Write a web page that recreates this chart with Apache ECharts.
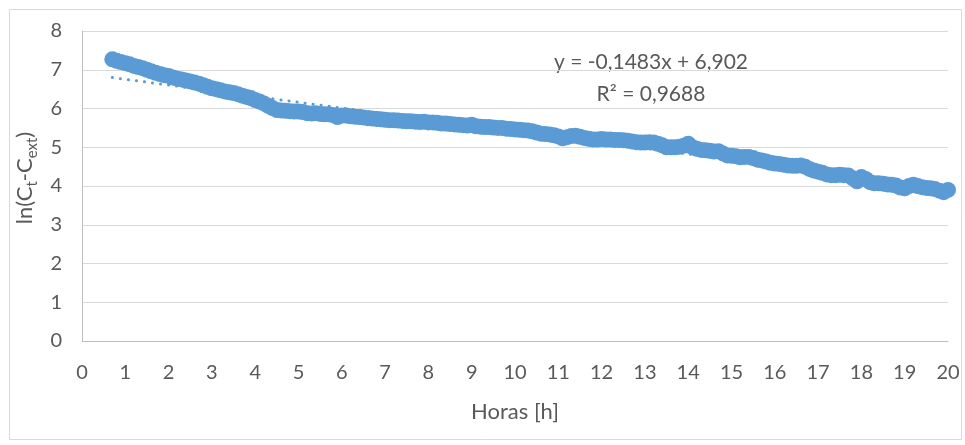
<!DOCTYPE html>
<html>
<head>
<meta charset="utf-8">
<script src="https://cdn.jsdelivr.net/npm/echarts@6/dist/echarts.min.js"></script>
<style>
    html, body { margin: 0; padding: 0; background: #fff; }
    #chart { width: 965px; height: 445px; }
</style>
</head>
<body>
<div id="chart"></div>
<script>
    // horas de medicion
    var hours = [
        0.7, 0.8, 0.9, 1.0,
        1.1, 1.2, 1.3, 1.4, 1.5, 1.6, 1.7, 1.8, 1.9, 2.0,
        2.1, 2.2, 2.3, 2.4, 2.5, 2.6, 2.7, 2.8, 2.9, 3.0,
        3.1, 3.2, 3.3, 3.4, 3.5, 3.6, 3.7, 3.8, 3.9, 4.0,
        4.1, 4.2, 4.3, 4.4, 4.5, 4.6, 4.7, 4.8, 4.9, 5.0,
        5.1, 5.2, 5.3, 5.4, 5.5, 5.6, 5.7, 5.8, 5.9, 6.0,
        6.1, 6.2, 6.3, 6.4, 6.5, 6.6, 6.7, 6.8, 6.9, 7.0,
        7.1, 7.2, 7.3, 7.4, 7.5, 7.6, 7.7, 7.8, 7.9, 8.0,
        8.1, 8.2, 8.3, 8.4, 8.5, 8.6, 8.7, 8.8, 8.9, 9.0,
        9.1, 9.2, 9.3, 9.4, 9.5, 9.6, 9.7, 9.8, 9.9, 10.0,
        10.1, 10.2, 10.3, 10.4, 10.5, 10.6, 10.7, 10.8, 10.9, 11.0,
        11.1, 11.2, 11.3, 11.4, 11.5, 11.6, 11.7, 11.8, 11.9, 12.0,
        12.1, 12.2, 12.3, 12.4, 12.5, 12.6, 12.7, 12.8, 12.9, 13.0,
        13.1, 13.2, 13.3, 13.4, 13.5, 13.6, 13.7, 13.8, 13.9, 14.0,
        14.1, 14.2, 14.3, 14.4, 14.5, 14.6, 14.7, 14.8, 14.9, 15.0,
        15.1, 15.2, 15.3, 15.4, 15.5, 15.6, 15.7, 15.8, 15.9, 16.0,
        16.1, 16.2, 16.3, 16.4, 16.5, 16.6, 16.7, 16.8, 16.9, 17.0,
        17.1, 17.2, 17.3, 17.4, 17.5, 17.6, 17.7, 17.8, 17.9, 18.0,
        18.1, 18.2, 18.3, 18.4, 18.5, 18.6, 18.7, 18.8, 18.9, 19.0,
        19.1, 19.2, 19.3, 19.4, 19.5, 19.6, 19.7, 19.8, 19.9, 20.0
    ];
    // ln(Ct - Cext)
    var lnValues = [
        7.27, 7.23, 7.20, 7.17,
        7.14, 7.10, 7.07, 7.04, 7.00, 6.96, 6.92, 6.89, 6.86, 6.84,
        6.80, 6.77, 6.75, 6.72, 6.70, 6.67, 6.64, 6.60, 6.56, 6.52,
        6.50, 6.47, 6.44, 6.42, 6.40, 6.37, 6.33, 6.30, 6.27, 6.22,
        6.18, 6.13, 6.07, 6.01, 5.96, 5.95, 5.94, 5.93, 5.92, 5.92,
        5.91, 5.88, 5.87, 5.88, 5.86, 5.85, 5.85, 5.83, 5.78, 5.82,
        5.82, 5.80, 5.79, 5.78, 5.77, 5.75, 5.74, 5.73, 5.72, 5.71,
        5.70, 5.70, 5.69, 5.68, 5.67, 5.67, 5.66, 5.65, 5.66, 5.64,
        5.64, 5.63, 5.61, 5.61, 5.60, 5.59, 5.58, 5.57, 5.56, 5.58,
        5.54, 5.53, 5.52, 5.52, 5.51, 5.50, 5.50, 5.48, 5.47, 5.46,
        5.45, 5.44, 5.43, 5.41, 5.38, 5.35, 5.34, 5.33, 5.31, 5.28,
        5.23, 5.26, 5.29, 5.30, 5.27, 5.24, 5.22, 5.20, 5.20, 5.21,
        5.20, 5.20, 5.19, 5.19, 5.18, 5.17, 5.15, 5.13, 5.12, 5.12,
        5.13, 5.12, 5.09, 5.05, 5.00, 5.00, 5.00, 5.01, 5.04, 5.09,
        5.00, 4.96, 4.93, 4.92, 4.91, 4.89, 4.90, 4.84, 4.79, 4.78,
        4.77, 4.74, 4.75, 4.75, 4.72, 4.68, 4.66, 4.63, 4.60, 4.58,
        4.57, 4.55, 4.53, 4.52, 4.52, 4.53, 4.50, 4.44, 4.40, 4.37,
        4.34, 4.30, 4.28, 4.28, 4.29, 4.28, 4.27, 4.20, 4.12, 4.23,
        4.18, 4.10, 4.07, 4.07, 4.06, 4.04, 4.03, 4.01, 3.96, 3.94,
        4.00, 4.03, 4.00, 3.97, 3.95, 3.94, 3.92, 3.88, 3.84, 3.90
    ];
    // linea de tendencia (Excel)
    var slope = -0.1483;
    var intercept = 6.902;
    var r2 = 0.9688;

    var chartDom = document.getElementById('chart');
    var myChart = echarts.init(chartDom);
    var option;
    var blue = '#5B9BD5';
    var textColor = '#595959';
    var font = 'Lato, "Open Sans", sans-serif';

    var points = hours.map(function (h, i) {
        return [h, lnValues[i]];
    });
    var x0 = hours[0];
    var x1 = hours[hours.length - 1];
    var trend = [[x0, slope * x0 + intercept], [x1, slope * x1 + intercept]];

    function fmt(v, d) {
        return v.toFixed(d).replace('.', ',');
    }

    option = {
        backgroundColor: '#fff',
        animation: false,
        grid: {
            left: 82,
            right: 17,
            top: 31,
            bottom: 104
        },
        graphic: [
            {
                type: 'rect',
                shape: { x: 9.5, y: 9.5, width: 952, height: 430 },
                style: { fill: 'none', stroke: '#D9D9D9', lineWidth: 1 },
                z: -1
            },
            {
                type: 'text',
                x: 651,
                y: 62,
                style: {
                    text: 'y = ' + fmt(slope, 4) + 'x + ' + fmt(intercept, 3),
                    fontSize: 21,
                    fontFamily: font,
                    fill: textColor,
                    align: 'center',
                    verticalAlign: 'middle'
                }
            },
            {
                type: 'text',
                x: 651,
                y: 94,
                style: {
                    text: 'R² = ' + fmt(r2, 4),
                    fontSize: 21,
                    fontFamily: font,
                    fill: textColor,
                    align: 'center',
                    verticalAlign: 'middle'
                }
            }
        ],
        xAxis: {
            type: 'value',
            min: 0,
            max: 20,
            interval: 1,
            name: 'Horas [h]',
            nameLocation: 'middle',
            nameGap: 60,
            nameTextStyle: { color: textColor, fontSize: 22, fontFamily: font },
            axisLine: { show: true, lineStyle: { color: '#BFBFBF', width: 1 } },
            axisTick: { show: false },
            axisLabel: { color: textColor, fontSize: 20, fontFamily: font, margin: 22 },
            splitLine: { show: false }
        },
        yAxis: {
            type: 'value',
            min: 0,
            max: 8,
            interval: 1,
            name: '{a|ln(C}{s|t}{a|-C}{s|ext}{a|)}',
            nameLocation: 'middle',
            nameGap: 41,
            nameTextStyle: {
                color: textColor,
                fontFamily: font,
                padding: [0, 0, 0, 16],
                rich: {
                    a: { fontSize: 22, color: textColor, fontFamily: font },
                    s: { fontSize: 15, color: textColor, fontFamily: font, padding: [14, 0, 0, 0] }
                }
            },
            axisLine: { show: true, lineStyle: { color: '#BFBFBF', width: 1 } },
            axisTick: { show: false },
            axisLabel: { color: textColor, fontSize: 20, fontFamily: font, margin: 20 },
            splitLine: { show: true, lineStyle: { color: '#D9D9D9', width: 1 } }
        },
        series: [
            {
                name: 'tendencia',
                type: 'line',
                data: trend,
                showSymbol: false,
                symbol: 'none',
                z: 1,
                lineStyle: { color: blue, width: 3, type: [0.1, 8], cap: 'round' }
            },
            {
                name: 'datos',
                type: 'scatter',
                data: points,
                symbolSize: 16,
                z: 2,
                itemStyle: { color: blue, opacity: 1 }
            }
        ]
    };

    option && myChart.setOption(option);
</script>
</body>
</html>
